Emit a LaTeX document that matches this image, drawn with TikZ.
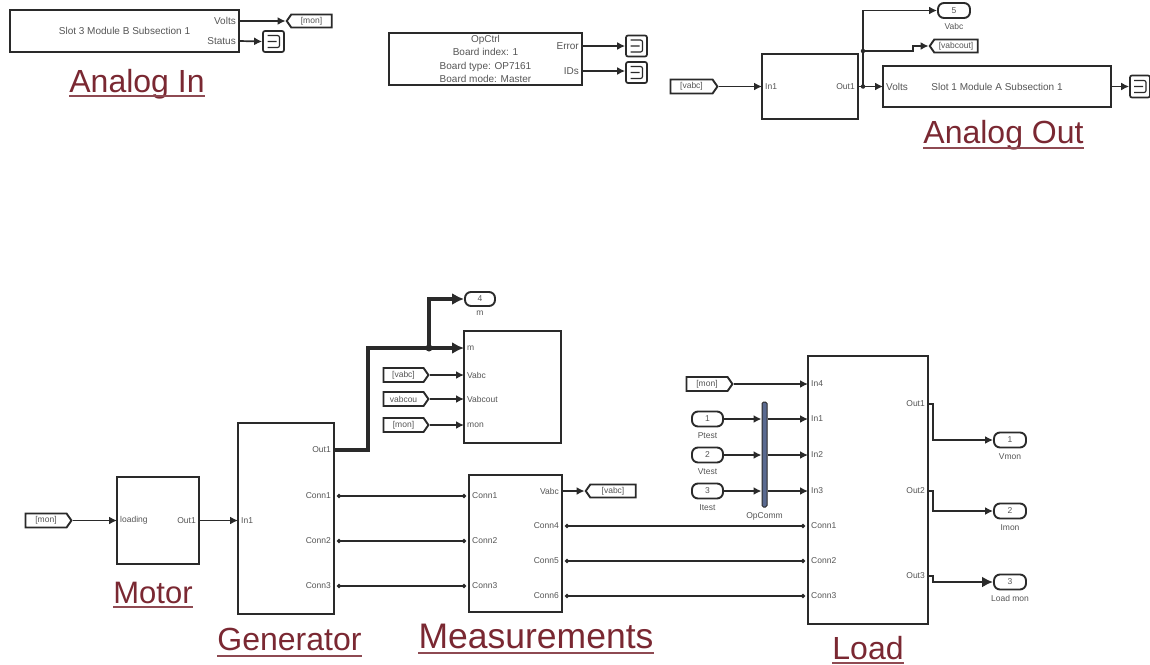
\documentclass[tikz,border=0pt]{standalone}
\usepackage{fontspec}
\setmainfont{Liberation Sans}
\usetikzlibrary{shapes.symbols, arrows.meta, positioning, calc}
\definecolor{wirecol}{HTML}{2A2A2A}
\definecolor{portcol}{HTML}{555555}
\definecolor{titlecol}{HTML}{7A2832}
\definecolor{ulinecol}{HTML}{8E4A52}
\definecolor{barcol}{HTML}{5A6A90}

\begin{document}
\begin{tikzpicture}[x=1pt, y=-1pt]
\tikzset{
  block/.style={
    rectangle, draw=wirecol, line width=1.9pt, fill=white, inner sep=0pt,
    text=portcol, font=\fontsize{10}{13.3}\selectfont, align=center
  },
  wire/.style={-{Latex[length=8pt, width=8pt]}, line width=1.7pt, draw=wirecol},
  buswire/.style={-{Latex[length=12pt, width=12pt]}, line width=3.8pt, draw=wirecol},
  midwire/.style={-{Latex[length=11pt, width=11pt]}, line width=2.6pt, draw=wirecol},
  connwire/.style={{Circle[length=4pt]}-{Circle[length=4pt]}, line width=1.9pt, draw=wirecol,
    shorten >=3pt, shorten <=3pt},
  tag/.style={
    signal, draw=wirecol, line width=1.9pt, fill=white, inner sep=0pt,
    minimum height=14pt, signal pointer angle=110,
    text=portcol, font=\fontsize{8.5}{10}\selectfont
  },
  outport/.style={
    rectangle, rounded corners=6pt, draw=wirecol, line width=1.9pt, inner sep=0pt,
    minimum width=32pt, minimum height=15pt,
    text=portcol, font=\fontsize{8.5}{10}\selectfont
  },
  termbox/.style={
    rectangle, rounded corners=2pt, draw=wirecol, line width=1.7pt, inner sep=0pt,
    minimum width=21pt, minimum height=21pt,
    path picture={
      \draw[wirecol, line width=1.2pt]
        ([shift={(-6,-6)}]path picture bounding box.center) -- ++(12,0) -- ++(0,12) -- ++(-12,0)
        ([shift={(-6,0)}]path picture bounding box.center) -- ++(9,0);
    }
  },
  portl/.style={anchor=west, inner ysep=0pt, inner xsep=3pt, text=portcol, font=\fontsize{8.5}{10}\selectfont},
  portr/.style={anchor=east, inner ysep=0pt, inner xsep=3pt, text=portcol, font=\fontsize{8.5}{10}\selectfont},
  portname/.style={inner sep=0pt, text=portcol, font=\fontsize{8.5}{10}\selectfont},
  jdot/.style={circle, fill=wirecol, inner sep=0pt, minimum size=4.5pt},
  title/.style={anchor=base, inner sep=0pt, text=titlecol, font=\fontsize{32}{36}\selectfont},
}

\useasboundingbox (0,0) rectangle (1150,664);

%% ---- ANALOG IN ----
\node[block, minimum width=229pt, minimum height=42pt] (slotin) at (124.5,31) {Slot 3 Module B Subsection 1};
\node[portr, font=\fontsize{10}{12}\selectfont] (slotvolts)  at (239,21) {Volts};
\node[portr, font=\fontsize{10}{12}\selectfont] (slotstatus) at (239,41) {Status};
\node[tag, signal to=west, minimum width=45pt, minimum height=13pt] (gotomon) at (311.5,21) {[mon]};
\node[termbox] (termstatus) at (273.5,41.5) {};

\draw[wire] (slotvolts.east)  -- (gotomon.west);
\draw[wire] (slotstatus.east) -- (termstatus.west);

%% ---- OPCTRL ----
\node[block, minimum width=193pt, minimum height=52pt] (opctrl) at (485.5,59)
  {OpCtrl\\Board index: 1\\Board type: OP7161\\Board mode: Master};
\node[portr, font=\fontsize{10}{12}\selectfont] (opterror) at (582,46) {Error};
\node[portr, font=\fontsize{10}{12}\selectfont] (opids)    at (582,71) {IDs};
\node[termbox] (termerror) at (636.5,46) {};
\node[termbox] (termids)   at (636.5,72.5) {};

\draw[wire] (opterror.east) -- (termerror.west);
\draw[wire] (opids.east)    -- (termids.west |- opids.east);

%% ---- ANALOG OUT ----
\node[tag, signal to=east, minimum width=47pt] (fromvabc) at (691.5,86.5) {[vabc]};
\node[block, minimum width=96pt, minimum height=65pt] (scaler) at (810,86.5) {};
\node[portl] (scalerin)  at (762,86.5) {In1};
\node[portr] (scalerout) at (858,86.5) {Out1};
\node[block, minimum width=228pt, minimum height=41pt] (slotout) at (997,86.5) {Slot 1 Module A Subsection 1};
\node[portl, font=\fontsize{10}{12}\selectfont] (slotoutvolts) at (883,86.5) {Volts};
\node[termbox, minimum width=20pt, minimum height=22pt] (termout) at (1140,86.5) {};
\node[outport] (portvabc) at (954,10.5) {5};
\node[portname, below=4pt of portvabc] (portvabcname) {Vabc};
\node[tag, signal to=west, minimum width=48pt, minimum height=13pt] (gotovabcout) at (956,46) {[vabcout]};
\node[jdot] (jscaler) at (863,86.5) {};
\node[jdot] (jtag)    at (863,51) {};

\draw[wire] (fromvabc.east)  -- (scalerin.west);
\draw[wire] (scalerout.east) -- (slotoutvolts.west);
\draw[wire] (slotout.east)   -- (termout.west);
\draw[wire] (jscaler.center) |- (portvabc.west);
\draw[wire] (jtag.center) -- ++(50,0) |- (gotovabcout.west);

%% ---- MOTOR, GENERATOR ----
\node[tag, signal to=east, minimum width=46pt] (frommon) at (46,520.5) {[mon]};
\node[block, minimum width=82pt, minimum height=87pt] (motor) at (158,520.5) {};
\node[portl] (motorin)  at (117,520.5) {loading};
\node[portr] (motorout) at (199,520.5) {Out1};
\node[block, minimum width=96pt, minimum height=191pt] (gen) at (286,518.5) {};
\node[portl] (genin)  at (238,520.5) {In1};
\node[portr] (genout) at (334,450) {Out1};
\node[portr] (genca)  at (334,496) {Conn1};
\node[portr] (gencb)  at (334,541) {Conn2};
\node[portr] (gencc)  at (334,586) {Conn3};

\draw[wire] (frommon.east)  -- (motorin.west);
\draw[wire] (motorout.east) -- (genin.west);

%% ---- SCOPE BLOCK ----
\node[block, minimum width=97pt, minimum height=112pt] (scope) at (512.5,387) {};
\node[portl] (scopem)    at (464,348) {m};
\node[portl] (scopevabc) at (464,375) {Vabc};
\node[portl] (scopeout)  at (464,399) {Vabcout};
\node[portl] (scopemon)  at (464,425) {mon};
\node[tag, signal to=east, minimum width=45pt] (fromvabcb) at (403.5,375) {[vabc]};
\node[tag, signal to=east, minimum width=45pt] (fromvabcc) at (403.5,399) {vabcou};
\node[tag, signal to=east, minimum width=45pt] (frommonb)  at (403.5,425) {[mon]};
\node[outport, minimum width=30pt, minimum height=14pt] (portm) at (480,299) {4};
\node[portname, below=4pt of portm] (portmname) {m};
\node[jdot, minimum size=7pt] (jbus) at (429,348) {};

\draw[buswire] (genout.east) -- ++(34,0) |- (scopem.west);
\draw[buswire] (jbus.center) |- (portm.west);
\draw[wire] (fromvabcb.east) -- (scopevabc.west);
\draw[wire] (fromvabcc.east) -- (scopeout.west);
\draw[wire] (frommonb.east)  -- (scopemon.west);

%% ---- MEASUREMENTS ----
\node[block, minimum width=93pt, minimum height=137pt] (meas) at (515.5,543.5) {};
\node[portl] (measca) at (469,496) {Conn1};
\node[portl] (mescb)  at (469,541) {Conn2};
\node[portl] (mescc)  at (469,586) {Conn3};
\node[portr] (measvabc) at (562,491) {Vabc};
\node[portr] (mescd)  at (562,526) {Conn4};
\node[portr] (mesce)  at (562,561) {Conn5};
\node[portr] (mescf)  at (562,596) {Conn6};
\node[tag, signal to=west, minimum width=50pt, minimum height=13pt] (gotovabc) at (613,491) {[vabc]};

\draw[connwire] (genca.east) -- (measca.west);
\draw[connwire] (gencb.east) -- (mescb.west);
\draw[connwire] (gencc.east) -- (mescc.west);
\draw[wire] (measvabc.east) -- (gotovabc.west);

%% ---- LOAD ----
\node[block, minimum width=120pt, minimum height=268pt] (load) at (868,490) {};
\node[portl] (loadinf) at (808,384) {In4};
\node[portl] (loadina) at (808,419) {In1};
\node[portl] (loadinb) at (808,455) {In2};
\node[portl] (loadinc) at (808,491) {In3};
\node[portl] (loadca)  at (808,526) {Conn1};
\node[portl] (loadcb)  at (808,561) {Conn2};
\node[portl] (loadcc)  at (808,596) {Conn3};
\node[portr] (loadouta) at (928,404) {Out1};
\node[portr] (loadoutb) at (928,491) {Out2};
\node[portr] (loadoutc) at (928,576) {Out3};

\node[tag, signal to=east, minimum width=46pt] (frommonc) at (707,384) {[mon]};
\node[outport, minimum width=31pt] (ptest) at (707.5,419) {1};
\node[outport, minimum width=31pt] (vtest) at (707.5,455) {2};
\node[outport, minimum width=31pt] (itest) at (707.5,491) {3};
\node[portname, below=5pt of ptest] (ptestname) {Ptest};
\node[portname, below=5pt of vtest] (vtestname) {Vtest};
\node[portname, below=5pt of itest] (itestname) {Itest};
\node[rectangle, rounded corners=1.5pt, draw=wirecol, line width=1pt, fill=barcol, inner sep=0pt,
      minimum width=5pt, minimum height=105pt] (opcomm) at (764.5,454.5) {};
\node[portname, below=5pt of opcomm] (opcommname) {OpComm};

\node[outport] (vmon) at (1010,440) {1};
\node[outport] (imon) at (1010,511) {2};
\node[outport] (lmon) at (1010,582) {3};
\node[portname, below=5pt of vmon] (vmonname) {Vmon};
\node[portname, below=5pt of imon] (imonname) {Imon};
\node[portname, below=5pt of lmon] (lmonname) {Load mon};

\draw[wire] (frommonc.east) -- (loadinf.west);
\draw[wire] (ptest.east) -- (opcomm.west |- ptest.east);
\draw[wire] (vtest.east) -- (opcomm.west |- vtest.east);
\draw[wire] (itest.east) -- (opcomm.west |- itest.east);
\draw[wire] (opcomm.east |- loadina.west) -- (loadina.west);
\draw[wire] (opcomm.east |- loadinb.west) -- (loadinb.west);
\draw[wire] (opcomm.east |- loadinc.west) -- (loadinc.west);
\draw[connwire] (mescd.east) -- (loadca.west);
\draw[connwire] (mesce.east) -- (loadcb.west);
\draw[connwire] (mescf.east) -- (loadcc.west);
\draw[wire] (loadouta.east) -- ++(5,0) |- (vmon.west);
\draw[wire] (loadoutb.east) -- ++(5,0) |- (imon.west);
\draw[midwire] (loadoutc.east) -- ++(5,0) |- (lmon.west);

%% ---- TITLES ----
\node[title] (titleain)  at (137,92)  {Analog In};
\node[title] (titleaout) at (1003.5,143) {Analog Out};
\node[title, font=\fontsize{31}{36}\selectfont] (titlemotor) at (153,603) {Motor};
\node[title] (titlegen)  at (289.5,650) {Generator};
\node[title, font=\fontsize{35.5}{40}\selectfont] (titlemeas) at (536,648) {Measurements};
\node[title] (titleload) at (868,659) {Load};

\foreach \n/\d in {titleain/4, titleaout/5, titlemotor/4, titlegen/6, titlemeas/5, titleload/4}
  \draw[ulinecol, line width=1.5pt] ([yshift=-\d pt]\n.base west) -- ([yshift=-\d pt]\n.base east);

\end{tikzpicture}
\end{document}
